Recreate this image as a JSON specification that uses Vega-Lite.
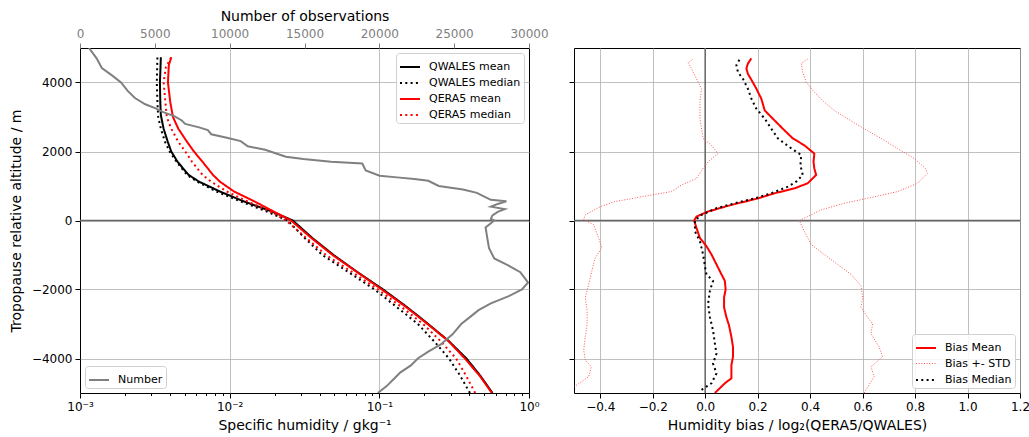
{
  "$schema": "https://vega.github.io/schema/vega-lite/v6.json",
  "background": "white",
  "padding": {"left": 8, "top": 8, "right": 8, "bottom": 4},
  "bounds": "flush",
  "spacing": 45,
  "resolve": {"scale": {"color": "independent", "strokeDash": "independent", "strokeWidth": "independent"}, "legend": {"color": "independent", "strokeDash": "independent", "strokeWidth": "independent"}},
  "datasets": {
    "q": [
      {"s": "QWALES mean", "alt": 4730, "q": 0.00347},
      {"s": "QWALES mean", "alt": 4000, "q": 0.00342},
      {"s": "QWALES mean", "alt": 3430, "q": 0.00344},
      {"s": "QWALES mean", "alt": 3050, "q": 0.00347},
      {"s": "QWALES mean", "alt": 2660, "q": 0.00362},
      {"s": "QWALES mean", "alt": 2280, "q": 0.00386},
      {"s": "QWALES mean", "alt": 2000, "q": 0.00407},
      {"s": "QWALES mean", "alt": 1700, "q": 0.00449},
      {"s": "QWALES mean", "alt": 1320, "q": 0.00532},
      {"s": "QWALES mean", "alt": 1125, "q": 0.00625},
      {"s": "QWALES mean", "alt": 840, "q": 0.00861},
      {"s": "QWALES mean", "alt": 550, "q": 0.0125},
      {"s": "QWALES mean", "alt": 260, "q": 0.0192},
      {"s": "QWALES mean", "alt": 0, "q": 0.0264},
      {"s": "QWALES mean", "alt": -500, "q": 0.0355},
      {"s": "QWALES mean", "alt": -1000, "q": 0.0495},
      {"s": "QWALES mean", "alt": -1500, "q": 0.0716},
      {"s": "QWALES mean", "alt": -2000, "q": 0.106},
      {"s": "QWALES mean", "alt": -2500, "q": 0.152},
      {"s": "QWALES mean", "alt": -3000, "q": 0.212},
      {"s": "QWALES mean", "alt": -3500, "q": 0.292},
      {"s": "QWALES mean", "alt": -4000, "q": 0.382},
      {"s": "QWALES mean", "alt": -4500, "q": 0.473},
      {"s": "QWALES mean", "alt": -5000, "q": 0.570},
      {"s": "QWALES median", "alt": 4730, "q": 0.00329},
      {"s": "QWALES median", "alt": 4000, "q": 0.00326},
      {"s": "QWALES median", "alt": 3430, "q": 0.00329},
      {"s": "QWALES median", "alt": 3000, "q": 0.00333},
      {"s": "QWALES median", "alt": 2660, "q": 0.00347},
      {"s": "QWALES median", "alt": 2280, "q": 0.00370},
      {"s": "QWALES median", "alt": 2000, "q": 0.00397},
      {"s": "QWALES median", "alt": 1700, "q": 0.00442},
      {"s": "QWALES median", "alt": 1320, "q": 0.00519},
      {"s": "QWALES median", "alt": 1125, "q": 0.00608},
      {"s": "QWALES median", "alt": 840, "q": 0.00816},
      {"s": "QWALES median", "alt": 550, "q": 0.0119},
      {"s": "QWALES median", "alt": 260, "q": 0.0177},
      {"s": "QWALES median", "alt": 0, "q": 0.0244},
      {"s": "QWALES median", "alt": -500, "q": 0.0316},
      {"s": "QWALES median", "alt": -1000, "q": 0.0416},
      {"s": "QWALES median", "alt": -1500, "q": 0.0624},
      {"s": "QWALES median", "alt": -2000, "q": 0.0929},
      {"s": "QWALES median", "alt": -2500, "q": 0.130},
      {"s": "QWALES median", "alt": -3000, "q": 0.181},
      {"s": "QWALES median", "alt": -3500, "q": 0.232},
      {"s": "QWALES median", "alt": -4000, "q": 0.292},
      {"s": "QWALES median", "alt": -4500, "q": 0.347},
      {"s": "QWALES median", "alt": -5000, "q": 0.403},
      {"s": "QERA5 mean", "alt": 4730, "q": 0.00407},
      {"s": "QERA5 mean", "alt": 4500, "q": 0.00392},
      {"s": "QERA5 mean", "alt": 4000, "q": 0.00387},
      {"s": "QERA5 mean", "alt": 3430, "q": 0.00401},
      {"s": "QERA5 mean", "alt": 3000, "q": 0.00418},
      {"s": "QERA5 mean", "alt": 2660, "q": 0.00454},
      {"s": "QERA5 mean", "alt": 2280, "q": 0.00519},
      {"s": "QERA5 mean", "alt": 2000, "q": 0.00577},
      {"s": "QERA5 mean", "alt": 1700, "q": 0.00659},
      {"s": "QERA5 mean", "alt": 1320, "q": 0.00774},
      {"s": "QERA5 mean", "alt": 1125, "q": 0.00861},
      {"s": "QERA5 mean", "alt": 840, "q": 0.0107},
      {"s": "QERA5 mean", "alt": 550, "q": 0.0147},
      {"s": "QERA5 mean", "alt": 260, "q": 0.0197},
      {"s": "QERA5 mean", "alt": 0, "q": 0.0257},
      {"s": "QERA5 mean", "alt": -500, "q": 0.0350},
      {"s": "QERA5 mean", "alt": -1000, "q": 0.0487},
      {"s": "QERA5 mean", "alt": -1500, "q": 0.0712},
      {"s": "QERA5 mean", "alt": -2000, "q": 0.104},
      {"s": "QERA5 mean", "alt": -2500, "q": 0.150},
      {"s": "QERA5 mean", "alt": -3000, "q": 0.210},
      {"s": "QERA5 mean", "alt": -3500, "q": 0.290},
      {"s": "QERA5 mean", "alt": -4000, "q": 0.373},
      {"s": "QERA5 mean", "alt": -4500, "q": 0.468},
      {"s": "QERA5 mean", "alt": -5000, "q": 0.565},
      {"s": "QERA5 median", "alt": 4730, "q": 0.00407},
      {"s": "QERA5 median", "alt": 4450, "q": 0.00375},
      {"s": "QERA5 median", "alt": 4000, "q": 0.00362},
      {"s": "QERA5 median", "alt": 3430, "q": 0.00372},
      {"s": "QERA5 median", "alt": 3000, "q": 0.00380},
      {"s": "QERA5 median", "alt": 2660, "q": 0.00407},
      {"s": "QERA5 median", "alt": 2280, "q": 0.00454},
      {"s": "QERA5 median", "alt": 2000, "q": 0.00505},
      {"s": "QERA5 median", "alt": 1700, "q": 0.00561},
      {"s": "QERA5 median", "alt": 1320, "q": 0.00659},
      {"s": "QERA5 median", "alt": 1125, "q": 0.00753},
      {"s": "QERA5 median", "alt": 840, "q": 0.00958},
      {"s": "QERA5 median", "alt": 550, "q": 0.0132},
      {"s": "QERA5 median", "alt": 260, "q": 0.0187},
      {"s": "QERA5 median", "alt": 0, "q": 0.0238},
      {"s": "QERA5 median", "alt": -500, "q": 0.0324},
      {"s": "QERA5 median", "alt": -1000, "q": 0.0440},
      {"s": "QERA5 median", "alt": -1500, "q": 0.0661},
      {"s": "QERA5 median", "alt": -2000, "q": 0.0980},
      {"s": "QERA5 median", "alt": -2500, "q": 0.140},
      {"s": "QERA5 median", "alt": -3000, "q": 0.196},
      {"s": "QERA5 median", "alt": -3500, "q": 0.257},
      {"s": "QERA5 median", "alt": -4000, "q": 0.326},
      {"s": "QERA5 median", "alt": -4500, "q": 0.380},
      {"s": "QERA5 median", "alt": -5000, "q": 0.437}
    ],
    "num": [
      {"alt": 5000, "n": 600},
      {"alt": 4700, "n": 1110},
      {"alt": 4420, "n": 1460},
      {"alt": 4200, "n": 2160},
      {"alt": 4000, "n": 2740},
      {"alt": 3750, "n": 3200},
      {"alt": 3550, "n": 3670},
      {"alt": 3370, "n": 4360},
      {"alt": 3250, "n": 5060},
      {"alt": 3150, "n": 5520},
      {"alt": 3020, "n": 6330},
      {"alt": 2900, "n": 6800},
      {"alt": 2800, "n": 7030},
      {"alt": 2700, "n": 7960},
      {"alt": 2620, "n": 8540},
      {"alt": 2500, "n": 8770},
      {"alt": 2400, "n": 9810},
      {"alt": 2300, "n": 10740},
      {"alt": 2150, "n": 11210},
      {"alt": 2050, "n": 12370},
      {"alt": 1950, "n": 13060},
      {"alt": 1850, "n": 13760},
      {"alt": 1780, "n": 14920},
      {"alt": 1700, "n": 16770},
      {"alt": 1650, "n": 18860},
      {"alt": 1450, "n": 19090},
      {"alt": 1300, "n": 20020},
      {"alt": 1250, "n": 21180},
      {"alt": 1200, "n": 22340},
      {"alt": 1150, "n": 23270},
      {"alt": 1000, "n": 23970},
      {"alt": 900, "n": 25590},
      {"alt": 800, "n": 26520},
      {"alt": 700, "n": 26980},
      {"alt": 600, "n": 27450},
      {"alt": 560, "n": 28490},
      {"alt": 480, "n": 27910},
      {"alt": 400, "n": 27450},
      {"alt": 330, "n": 28380},
      {"alt": 250, "n": 27910},
      {"alt": 150, "n": 27560},
      {"alt": 50, "n": 27450},
      {"alt": 0, "n": 27680},
      {"alt": -200, "n": 27100},
      {"alt": -500, "n": 27210},
      {"alt": -800, "n": 27330},
      {"alt": -1100, "n": 27680},
      {"alt": -1300, "n": 28610},
      {"alt": -1500, "n": 29420},
      {"alt": -1700, "n": 29770},
      {"alt": -1800, "n": 29930},
      {"alt": -2000, "n": 29530},
      {"alt": -2200, "n": 28610},
      {"alt": -2400, "n": 27450},
      {"alt": -2600, "n": 26630},
      {"alt": -2800, "n": 26050},
      {"alt": -3000, "n": 25470},
      {"alt": -3300, "n": 24890},
      {"alt": -3600, "n": 24080},
      {"alt": -3800, "n": 23270},
      {"alt": -4000, "n": 22570},
      {"alt": -4200, "n": 22110},
      {"alt": -4400, "n": 21410},
      {"alt": -4600, "n": 20950},
      {"alt": -4800, "n": 20490},
      {"alt": -5000, "n": 19900}
    ],
    "bias": [
      {"s": "Bias Mean", "side": "m", "alt": 4700, "b": 0.176},
      {"s": "Bias Mean", "side": "m", "alt": 4550, "b": 0.163},
      {"s": "Bias Mean", "side": "m", "alt": 4400, "b": 0.157},
      {"s": "Bias Mean", "side": "m", "alt": 4250, "b": 0.163},
      {"s": "Bias Mean", "side": "m", "alt": 4000, "b": 0.182},
      {"s": "Bias Mean", "side": "m", "alt": 3820, "b": 0.195},
      {"s": "Bias Mean", "side": "m", "alt": 3530, "b": 0.214},
      {"s": "Bias Mean", "side": "m", "alt": 3190, "b": 0.227},
      {"s": "Bias Mean", "side": "m", "alt": 2950, "b": 0.258},
      {"s": "Bias Mean", "side": "m", "alt": 2660, "b": 0.296},
      {"s": "Bias Mean", "side": "m", "alt": 2380, "b": 0.334},
      {"s": "Bias Mean", "side": "m", "alt": 2180, "b": 0.378},
      {"s": "Bias Mean", "side": "m", "alt": 1940, "b": 0.416},
      {"s": "Bias Mean", "side": "m", "alt": 1700, "b": 0.413},
      {"s": "Bias Mean", "side": "m", "alt": 1510, "b": 0.416},
      {"s": "Bias Mean", "side": "m", "alt": 1320, "b": 0.423},
      {"s": "Bias Mean", "side": "m", "alt": 1080, "b": 0.391},
      {"s": "Bias Mean", "side": "m", "alt": 930, "b": 0.34},
      {"s": "Bias Mean", "side": "m", "alt": 790, "b": 0.265},
      {"s": "Bias Mean", "side": "m", "alt": 640, "b": 0.201},
      {"s": "Bias Mean", "side": "m", "alt": 500, "b": 0.125},
      {"s": "Bias Mean", "side": "m", "alt": 400, "b": 0.075},
      {"s": "Bias Mean", "side": "m", "alt": 260, "b": 0.011},
      {"s": "Bias Mean", "side": "m", "alt": 115, "b": -0.033},
      {"s": "Bias Mean", "side": "m", "alt": 0, "b": -0.042},
      {"s": "Bias Mean", "side": "m", "alt": -220, "b": -0.033},
      {"s": "Bias Mean", "side": "m", "alt": -507, "b": -0.02},
      {"s": "Bias Mean", "side": "m", "alt": -746, "b": 0.005},
      {"s": "Bias Mean", "side": "m", "alt": -985, "b": 0.024},
      {"s": "Bias Mean", "side": "m", "alt": -1273, "b": 0.043},
      {"s": "Bias Mean", "side": "m", "alt": -1560, "b": 0.062},
      {"s": "Bias Mean", "side": "m", "alt": -1751, "b": 0.075},
      {"s": "Bias Mean", "side": "m", "alt": -2000, "b": 0.078},
      {"s": "Bias Mean", "side": "m", "alt": -2230, "b": 0.072},
      {"s": "Bias Mean", "side": "m", "alt": -2517, "b": 0.072},
      {"s": "Bias Mean", "side": "m", "alt": -2804, "b": 0.081},
      {"s": "Bias Mean", "side": "m", "alt": -3043, "b": 0.091},
      {"s": "Bias Mean", "side": "m", "alt": -3378, "b": 0.1},
      {"s": "Bias Mean", "side": "m", "alt": -3665, "b": 0.106},
      {"s": "Bias Mean", "side": "m", "alt": -3952, "b": 0.106},
      {"s": "Bias Mean", "side": "m", "alt": -4191, "b": 0.1},
      {"s": "Bias Mean", "side": "m", "alt": -4574, "b": 0.1},
      {"s": "Bias Mean", "side": "m", "alt": -4718, "b": 0.075},
      {"s": "Bias Mean", "side": "m", "alt": -5000, "b": 0.037},
      {"s": "Bias Median", "side": "m", "alt": 4680, "b": 0.132},
      {"s": "Bias Median", "side": "m", "alt": 4500, "b": 0.119},
      {"s": "Bias Median", "side": "m", "alt": 4300, "b": 0.125},
      {"s": "Bias Median", "side": "m", "alt": 4106, "b": 0.144},
      {"s": "Bias Median", "side": "m", "alt": 3817, "b": 0.163},
      {"s": "Bias Median", "side": "m", "alt": 3530, "b": 0.176},
      {"s": "Bias Median", "side": "m", "alt": 3240, "b": 0.195},
      {"s": "Bias Median", "side": "m", "alt": 2950, "b": 0.227},
      {"s": "Bias Median", "side": "m", "alt": 2660, "b": 0.252},
      {"s": "Bias Median", "side": "m", "alt": 2380, "b": 0.277},
      {"s": "Bias Median", "side": "m", "alt": 2090, "b": 0.328},
      {"s": "Bias Median", "side": "m", "alt": 1900, "b": 0.366},
      {"s": "Bias Median", "side": "m", "alt": 1600, "b": 0.363},
      {"s": "Bias Median", "side": "m", "alt": 1320, "b": 0.372},
      {"s": "Bias Median", "side": "m", "alt": 1125, "b": 0.347},
      {"s": "Bias Median", "side": "m", "alt": 980, "b": 0.315},
      {"s": "Bias Median", "side": "m", "alt": 790, "b": 0.252},
      {"s": "Bias Median", "side": "m", "alt": 640, "b": 0.189},
      {"s": "Bias Median", "side": "m", "alt": 500, "b": 0.113},
      {"s": "Bias Median", "side": "m", "alt": 355, "b": 0.043},
      {"s": "Bias Median", "side": "m", "alt": 165, "b": -0.014},
      {"s": "Bias Median", "side": "m", "alt": 0, "b": -0.039},
      {"s": "Bias Median", "side": "m", "alt": -316, "b": -0.039},
      {"s": "Bias Median", "side": "m", "alt": -600, "b": -0.02},
      {"s": "Bias Median", "side": "m", "alt": -985, "b": -0.008},
      {"s": "Bias Median", "side": "m", "alt": -1368, "b": 0.0},
      {"s": "Bias Median", "side": "m", "alt": -1560, "b": 0.005},
      {"s": "Bias Median", "side": "m", "alt": -1751, "b": 0.03},
      {"s": "Bias Median", "side": "m", "alt": -2038, "b": 0.018},
      {"s": "Bias Median", "side": "m", "alt": -2420, "b": 0.011},
      {"s": "Bias Median", "side": "m", "alt": -2804, "b": 0.018},
      {"s": "Bias Median", "side": "m", "alt": -3187, "b": 0.03},
      {"s": "Bias Median", "side": "m", "alt": -3570, "b": 0.037},
      {"s": "Bias Median", "side": "m", "alt": -3856, "b": 0.043},
      {"s": "Bias Median", "side": "m", "alt": -4144, "b": 0.03},
      {"s": "Bias Median", "side": "m", "alt": -4430, "b": 0.043},
      {"s": "Bias Median", "side": "m", "alt": -4718, "b": 0.024},
      {"s": "Bias Median", "side": "m", "alt": -4909, "b": -0.014},
      {"s": "Bias +- STD", "side": "lo", "alt": 4680, "b": -0.046},
      {"s": "Bias +- STD", "side": "lo", "alt": 4580, "b": -0.065},
      {"s": "Bias +- STD", "side": "lo", "alt": 4400, "b": -0.052},
      {"s": "Bias +- STD", "side": "lo", "alt": 4106, "b": -0.033},
      {"s": "Bias +- STD", "side": "lo", "alt": 3817, "b": -0.014},
      {"s": "Bias +- STD", "side": "lo", "alt": 3430, "b": -0.02},
      {"s": "Bias +- STD", "side": "lo", "alt": 2950, "b": -0.02},
      {"s": "Bias +- STD", "side": "lo", "alt": 2380, "b": -0.008},
      {"s": "Bias +- STD", "side": "lo", "alt": 2180, "b": 0.024},
      {"s": "Bias +- STD", "side": "lo", "alt": 1940, "b": 0.049},
      {"s": "Bias +- STD", "side": "lo", "alt": 1700, "b": 0.011},
      {"s": "Bias +- STD", "side": "lo", "alt": 1510, "b": -0.008},
      {"s": "Bias +- STD", "side": "lo", "alt": 1220, "b": -0.033},
      {"s": "Bias +- STD", "side": "lo", "alt": 1030, "b": -0.09},
      {"s": "Bias +- STD", "side": "lo", "alt": 840, "b": -0.128},
      {"s": "Bias +- STD", "side": "lo", "alt": 740, "b": -0.204},
      {"s": "Bias +- STD", "side": "lo", "alt": 550, "b": -0.343},
      {"s": "Bias +- STD", "side": "lo", "alt": 400, "b": -0.4},
      {"s": "Bias +- STD", "side": "lo", "alt": 165, "b": -0.457},
      {"s": "Bias +- STD", "side": "lo", "alt": 30, "b": -0.463},
      {"s": "Bias +- STD", "side": "lo", "alt": -124, "b": -0.425},
      {"s": "Bias +- STD", "side": "lo", "alt": -507, "b": -0.406},
      {"s": "Bias +- STD", "side": "lo", "alt": -794, "b": -0.394},
      {"s": "Bias +- STD", "side": "lo", "alt": -1081, "b": -0.419},
      {"s": "Bias +- STD", "side": "lo", "alt": -1464, "b": -0.432},
      {"s": "Bias +- STD", "side": "lo", "alt": -1847, "b": -0.444},
      {"s": "Bias +- STD", "side": "lo", "alt": -2230, "b": -0.457},
      {"s": "Bias +- STD", "side": "lo", "alt": -2612, "b": -0.45},
      {"s": "Bias +- STD", "side": "lo", "alt": -2995, "b": -0.45},
      {"s": "Bias +- STD", "side": "lo", "alt": -3378, "b": -0.457},
      {"s": "Bias +- STD", "side": "lo", "alt": -3761, "b": -0.463},
      {"s": "Bias +- STD", "side": "lo", "alt": -4048, "b": -0.457},
      {"s": "Bias +- STD", "side": "lo", "alt": -4239, "b": -0.434},
      {"s": "Bias +- STD", "side": "lo", "alt": -4526, "b": -0.444},
      {"s": "Bias +- STD", "side": "lo", "alt": -4766, "b": -0.489},
      {"s": "Bias +- STD", "side": "lo", "alt": -4850, "b": -0.51},
      {"s": "Bias +- STD", "side": "hi", "alt": 4680, "b": 0.391},
      {"s": "Bias +- STD", "side": "hi", "alt": 4550, "b": 0.366},
      {"s": "Bias +- STD", "side": "hi", "alt": 4300, "b": 0.372},
      {"s": "Bias +- STD", "side": "hi", "alt": 4010, "b": 0.385},
      {"s": "Bias +- STD", "side": "hi", "alt": 3720, "b": 0.416},
      {"s": "Bias +- STD", "side": "hi", "alt": 3430, "b": 0.454},
      {"s": "Bias +- STD", "side": "hi", "alt": 3190, "b": 0.492},
      {"s": "Bias +- STD", "side": "hi", "alt": 2950, "b": 0.543},
      {"s": "Bias +- STD", "side": "hi", "alt": 2660, "b": 0.606},
      {"s": "Bias +- STD", "side": "hi", "alt": 2380, "b": 0.67},
      {"s": "Bias +- STD", "side": "hi", "alt": 2090, "b": 0.733},
      {"s": "Bias +- STD", "side": "hi", "alt": 1800, "b": 0.796},
      {"s": "Bias +- STD", "side": "hi", "alt": 1510, "b": 0.84},
      {"s": "Bias +- STD", "side": "hi", "alt": 1365, "b": 0.847},
      {"s": "Bias +- STD", "side": "hi", "alt": 1077, "b": 0.809},
      {"s": "Bias +- STD", "side": "hi", "alt": 837, "b": 0.733},
      {"s": "Bias +- STD", "side": "hi", "alt": 644, "b": 0.619},
      {"s": "Bias +- STD", "side": "hi", "alt": 500, "b": 0.53},
      {"s": "Bias +- STD", "side": "hi", "alt": 308, "b": 0.442},
      {"s": "Bias +- STD", "side": "hi", "alt": 67, "b": 0.378},
      {"s": "Bias +- STD", "side": "hi", "alt": 0, "b": 0.359},
      {"s": "Bias +- STD", "side": "hi", "alt": -316, "b": 0.378},
      {"s": "Bias +- STD", "side": "hi", "alt": -698, "b": 0.404},
      {"s": "Bias +- STD", "side": "hi", "alt": -985, "b": 0.454},
      {"s": "Bias +- STD", "side": "hi", "alt": -1273, "b": 0.505},
      {"s": "Bias +- STD", "side": "hi", "alt": -1560, "b": 0.556},
      {"s": "Bias +- STD", "side": "hi", "alt": -1895, "b": 0.594},
      {"s": "Bias +- STD", "side": "hi", "alt": -2230, "b": 0.6},
      {"s": "Bias +- STD", "side": "hi", "alt": -2517, "b": 0.594},
      {"s": "Bias +- STD", "side": "hi", "alt": -2804, "b": 0.619},
      {"s": "Bias +- STD", "side": "hi", "alt": -2995, "b": 0.638},
      {"s": "Bias +- STD", "side": "hi", "alt": -3282, "b": 0.632},
      {"s": "Bias +- STD", "side": "hi", "alt": -3665, "b": 0.663},
      {"s": "Bias +- STD", "side": "hi", "alt": -3952, "b": 0.676},
      {"s": "Bias +- STD", "side": "hi", "alt": -4239, "b": 0.632},
      {"s": "Bias +- STD", "side": "hi", "alt": -4526, "b": 0.644},
      {"s": "Bias +- STD", "side": "hi", "alt": -5000, "b": 0.606}
    ],
    "zero": [{"v": 0}]
  },
  "hconcat": [
    {
      "width": 449,
      "height": 345,
      "layer": [
        {
          "data": {"name": "zero"},
          "mark": {"type": "rule", "color": "#666666", "strokeWidth": 1.5},
          "encoding": {
            "y": {"field": "v", "type": "quantitative", "scale": {"domain": [-5000, 5000], "nice": false, "zero": false}}
          }
        },
        {
          "data": {"name": "q"},
          "mark": {"type": "line", "strokeWidth": 2, "clip": true},
          "encoding": {
            "x": {
              "field": "q", "type": "quantitative",
              "scale": {"type": "log", "domain": [0.001, 1], "nice": false},
              "axis": {
                "orient": "bottom",
                "title": "Specific humidity / gkg⁻¹",
                "titlePadding": 6,
                "values": [0.001, 0.002, 0.003, 0.004, 0.005, 0.006, 0.007, 0.008, 0.009, 0.01, 0.02, 0.03, 0.04, 0.05, 0.06, 0.07, 0.08, 0.09, 0.1, 0.2, 0.3, 0.4, 0.5, 0.6, 0.7, 0.8, 0.9, 1],
                "labelExpr": "datum.value == 0.001 ? '10⁻³' : datum.value == 0.01 ? '10⁻²' : datum.value == 0.1 ? '10⁻¹' : datum.value == 1 ? '10⁰' : ''",
                "tickSize": {"condition": {"test": "indexof([0.001, 0.01, 0.1, 1], datum.value) >= 0", "value": 5}, "value": 2.5},
                "gridOpacity": {"condition": {"test": "indexof([0.01, 0.1], datum.value) >= 0", "value": 1}, "value": 0}
              }
            },
            "y": {
              "field": "alt", "type": "quantitative",
              "scale": {"domain": [-5000, 5000], "nice": false, "zero": false},
              "axis": {"values": [-4000, -2000, 0, 2000, 4000], "format": "d", "title": "Tropopause relative altitude / m", "titlePadding": 8}
            },
            "color": {
              "field": "s", "type": "nominal",
              "scale": {"domain": ["QWALES mean", "QWALES median", "QERA5 mean", "QERA5 median"], "range": ["#000000", "#000000", "#ff0000", "#ff0000"]},
              "legend": {"orient": "top-right", "title": null}
            },
            "strokeDash": {
              "field": "s", "type": "nominal",
              "scale": {"domain": ["QWALES mean", "QWALES median", "QERA5 mean", "QERA5 median"], "range": [[1, 0], [2, 3.3], [1, 0], [2, 3.3]]},
              "legend": {"orient": "top-right", "title": null}
            },
            "order": {"field": "alt", "type": "quantitative"}
          }
        },
        {
          "data": {"name": "num"},
          "mark": {"type": "line", "strokeWidth": 2, "clip": true},
          "encoding": {
            "x": {
              "field": "n", "type": "quantitative",
              "scale": {"domain": [0, 30000], "nice": false},
              "axis": {
                "orient": "top",
                "title": "Number of observations",
                "values": [0, 5000, 10000, 15000, 20000, 25000, 30000],
                "format": "d",
                "grid": false,
                "labelColor": "#808080",
                "tickColor": "#808080",
                "titlePadding": 4
              }
            },
            "y": {"field": "alt", "type": "quantitative", "scale": {"domain": [-5000, 5000], "nice": false, "zero": false}},
            "color": {
              "datum": "Number", "type": "nominal",
              "scale": {"domain": ["Number"], "range": ["#808080"]},
              "legend": {"orient": "bottom-left", "title": null}
            },
            "order": {"field": "alt", "type": "quantitative"}
          }
        }
      ],
      "resolve": {"scale": {"x": "independent", "color": "independent", "strokeDash": "independent"}, "axis": {"x": "independent"}, "legend": {"color": "independent", "strokeDash": "independent"}}
    },
    {
      "width": 446,
      "height": 345,
      "layer": [
        {
          "data": {"name": "zero"},
          "mark": {"type": "rule", "color": "#666666", "strokeWidth": 1.5},
          "encoding": {
            "y": {"field": "v", "type": "quantitative", "scale": {"domain": [-5000, 5000], "nice": false, "zero": false}}
          }
        },
        {
          "data": {"name": "zero"},
          "mark": {"type": "rule", "color": "#666666", "strokeWidth": 1.5},
          "encoding": {
            "x": {"field": "v", "type": "quantitative", "scale": {"domain": [-0.5, 1.2], "nice": false, "zero": false}}
          }
        },
        {
          "data": {"name": "bias"},
          "mark": {"type": "line", "clip": true},
          "encoding": {
            "x": {
              "field": "b", "type": "quantitative",
              "scale": {"domain": [-0.5, 1.2], "nice": false, "zero": false},
              "axis": {
                "values": [-0.4, -0.2, 0, 0.2, 0.4, 0.6, 0.8, 1.0, 1.2],
                "format": ".1f",
                "title": "Humidity bias / log₂(QERA5/QWALES)",
                "titlePadding": 6
              }
            },
            "y": {
              "field": "alt", "type": "quantitative",
              "scale": {"domain": [-5000, 5000], "nice": false, "zero": false},
              "axis": {"values": [-4000, -2000, 0, 2000, 4000], "labels": false, "title": null}
            },
            "color": {
              "field": "s", "type": "nominal",
              "scale": {"domain": ["Bias Mean", "Bias +- STD", "Bias Median"], "range": ["#ff0000", "#ff5555", "#000000"]},
              "legend": {"orient": "bottom-right", "title": null}
            },
            "strokeDash": {
              "field": "s", "type": "nominal",
              "scale": {"domain": ["Bias Mean", "Bias +- STD", "Bias Median"], "range": [[1, 0], [1, 1.65], [2, 3.3]]},
              "legend": {"orient": "bottom-right", "title": null}
            },
            "strokeWidth": {
              "field": "s", "type": "nominal",
              "scale": {"type": "ordinal", "domain": ["Bias Mean", "Bias +- STD", "Bias Median"], "range": [2, 1, 2]},
              "legend": {"orient": "bottom-right", "title": null}
            },
            "detail": {"field": "side", "type": "nominal"},
            "order": {"field": "alt", "type": "quantitative"}
          }
        }
      ]
    }
  ],
  "config": {
    "font": "DejaVu Sans",
    "view": {"stroke": "#000000", "strokeWidth": 1},
    "axis": {
      "domain": false,
      "labelFlush": false,
      "labelOverlap": false,
      "tickColor": "#000000",
      "tickSize": 5,
      "labelPadding": 3,
      "labelFont": "DejaVu Sans",
      "labelFontSize": 12,
      "labelColor": "#000000",
      "titleFont": "DejaVu Sans",
      "titleFontSize": 14,
      "titleFontWeight": "normal",
      "titleColor": "#000000",
      "gridColor": "#b0b0b0",
      "gridWidth": 0.8
    },
    "legend": {
      "labelFont": "DejaVu Sans",
      "labelFontSize": 11,
      "labelColor": "#000000",
      "symbolType": "stroke",
      "symbolSize": 400,
      "symbolStrokeWidth": 2,
      "strokeColor": "#d0d0d0",
      "fillColor": "rgba(255,255,255,0.85)",
      "cornerRadius": 3,
      "padding": 3,
      "rowPadding": -2,
      "labelOffset": 8,
      "offset": 5
    }
  }
}
